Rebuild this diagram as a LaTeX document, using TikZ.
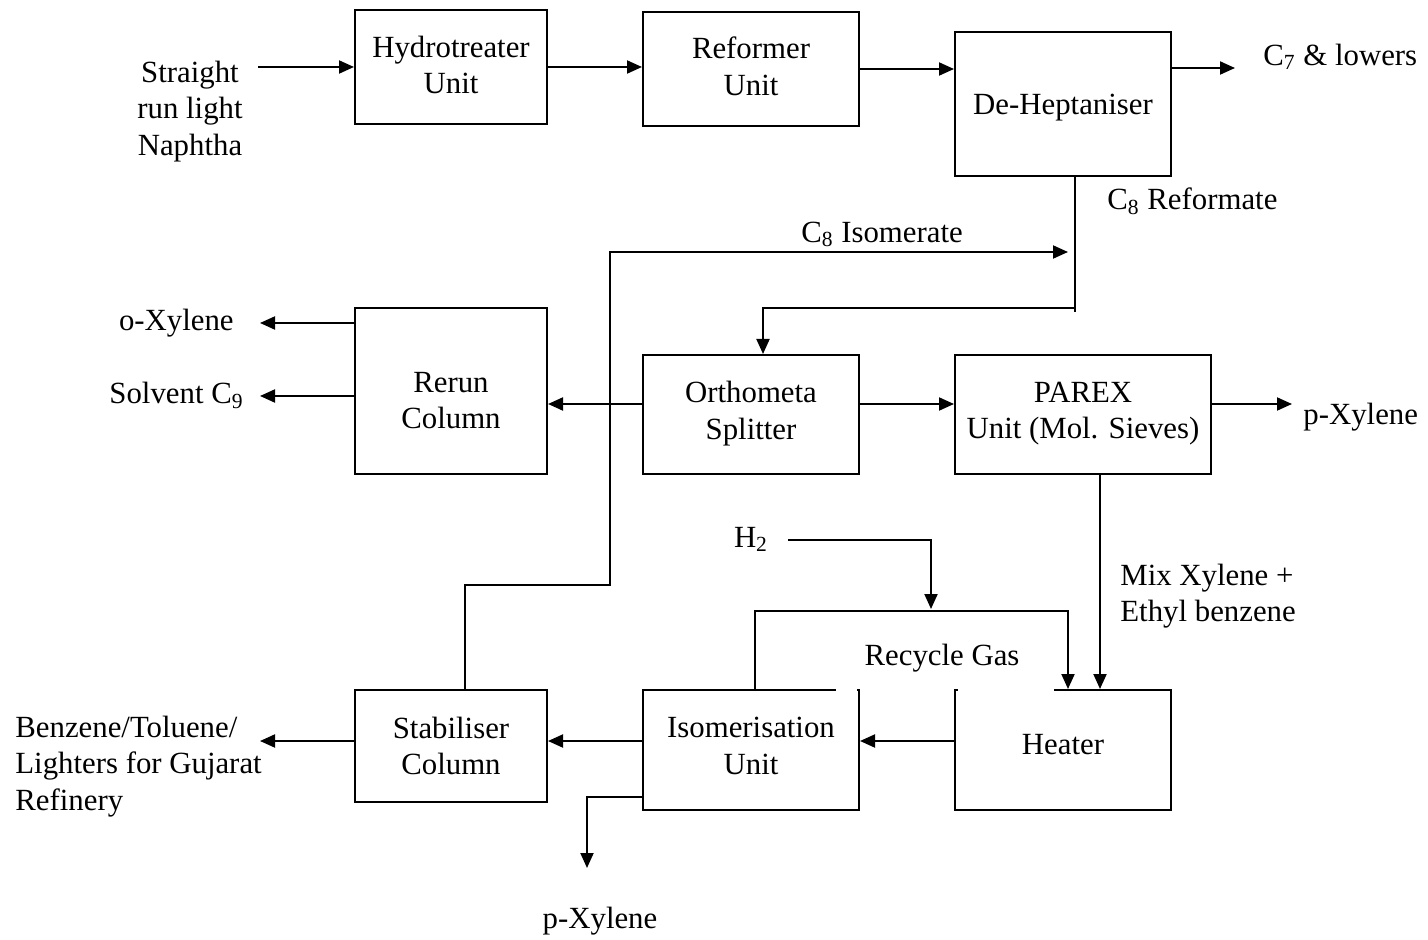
\documentclass[tikz,border=0pt]{standalone}
\usepackage{fontspec}
\setmainfont{Liberation Serif}
\usetikzlibrary{arrows.meta}
\newcommand\dfont{\fontsize{15.4}{18.3}\selectfont}
\tikzset{
  every node/.style={font=\dfont, inner sep=0pt, text depth=0pt},
  box/.style={draw, line width=1pt, align=center},
  lbl/.style={align=center},
  arr/.style={line width=1pt, -{Triangle[length=7.5pt,width=6.5pt]}},
  ln/.style={line width=1pt},
}
\begin{document}
\begin{tikzpicture}[x=0.5pt,y=-0.5pt]
\useasboundingbox (0,0) rectangle (1428,940);
% boxes
\node[box, minimum width=96pt, minimum height=57pt, text depth=2pt] (hyd) at (451,67) {Hydrotreater\\Unit};
\node[box, minimum width=108pt, minimum height=57pt, text depth=3pt] (ref) at (751,69) {Reformer\\Unit};
\node[box, minimum width=108pt, minimum height=72pt] (dhep) at (1063,104) {De-Heptaniser};
\node[box, minimum width=96pt, minimum height=83pt, text height=38pt] (rerun) at (451,391) {Rerun\\Column};
\node[box, minimum width=108pt, minimum height=59.5pt, text depth=4pt] (ortho) at (751,414.5) {Orthometa\\Splitter};
\node[box, minimum width=128pt, minimum height=59.5pt, text depth=4pt] (parex) at (1083,414.5) {PAREX\\Unit (Mol. Sieves)};
\node[box, minimum width=96pt, minimum height=56pt] (stab) at (451,746) {Stabiliser\\Column};
\node[box, minimum width=108pt, minimum height=60pt, text depth=4pt] (iso) at (751,750) {Isomerisation\\Unit};
\node[box, minimum width=108pt, minimum height=60pt, text depth=6pt] (heat) at (1063,750) {Heater};
% gaps in the top edges
\draw[white, line width=2pt] (836,690) -- (857,690);
\draw[white, line width=2pt] (957.5,690) -- (1054,690);
% labels
\node[lbl] (naph) at (190,108) {Straight\\run light\\Naphtha};
\node[anchor=west] (c7) at (1263,55) {C\textsubscript{7} \& lowers};
\node[anchor=west] (c8r) at (1107,199) {C\textsubscript{8} Reformate};
\node (c8i) at (882,232) {C\textsubscript{8} Isomerate};
\node[anchor=east] (oxl) at (234,320) {o-Xylene};
\node[anchor=east] (solv) at (244,393) {Solvent C\textsubscript{9}};
\node[anchor=west] (pxr) at (1303,414) {p-Xylene};
\node (h2) at (751,537) {H\textsubscript{2}};
\node[anchor=west, align=left] (mix) at (1120,593) {Mix Xylene +\\Ethyl benzene};
\node (rg) at (942,655) {Recycle Gas};
\node[anchor=west, align=left] (benz) at (15,763) {Benzene/Toluene/\\Lighters for Gujarat\\Refinery};
\node (pxb) at (600,918) {p-Xylene};
% free ends
\coordinate (n1) at (258,67);
\coordinate (c7e) at (1235,68);
\coordinate (r1) at (1075,176);
\coordinate (r2) at (1075,312);
\coordinate (r3) at (1075,308);
\coordinate (i2) at (610,585);
\coordinate (i4) at (1068,252);
\coordinate (ox) at (260,323);
\coordinate (sv) at (260,396);
\coordinate (px) at (1292,404);
\coordinate (mx) at (1100,600);
\coordinate (h1) at (788,540);
\coordinate (h3) at (931,609);
\coordinate (rc1) at (755,611);
\coordinate (rc2) at (1068,611);
\coordinate (bz) at (260,741);
\coordinate (pb1) at (587,797);
\coordinate (pb2) at (587,868);
% connectors
\draw[arr] (n1) -- (n1 -| hyd.west);
\draw[arr] (hyd.east) -- (hyd.east -| ref.west);
\draw[arr] (ref.east) -- (ref.east -| dhep.west);
\draw[arr] (dhep.east |- c7e) -- (c7e);
\draw[ln] (r1) -- (r2);
\draw[arr] (r3) -| ([xshift=6pt]ortho.north);
\draw[arr] ([xshift=7pt]stab.north) |- (i2) |- (i4);
\draw[arr] ([yshift=5.25pt]ortho.west) -- ([yshift=5.25pt]ortho.west -| rerun.east);
\draw[arr] (rerun.west |- ox) -- (ox);
\draw[arr] (rerun.west |- sv) -- (sv);
\draw[arr] ([yshift=5.25pt]ortho.east) -- ([yshift=5.25pt]ortho.east -| parex.west);
\draw[arr] (parex.east |- px) -- (px);
\draw[arr] (parex.south -| mx) -- (heat.north -| mx);
\draw[arr] (h1) -| (h3);
\draw[arr] (iso.north -| rc1) -- (rc1) -- (rc2) -- (heat.north -| rc2);
\draw[arr] ([yshift=4.5pt]heat.west) -- ([yshift=4.5pt]heat.west -| iso.east);
\draw[arr] (iso.west |- bz) -- (stab.east |- bz);
\draw[arr] (stab.west |- bz) -- (bz);
\draw[arr] (iso.west |- pb1) -- (pb1) -- (pb2);
\end{tikzpicture}
\end{document}
